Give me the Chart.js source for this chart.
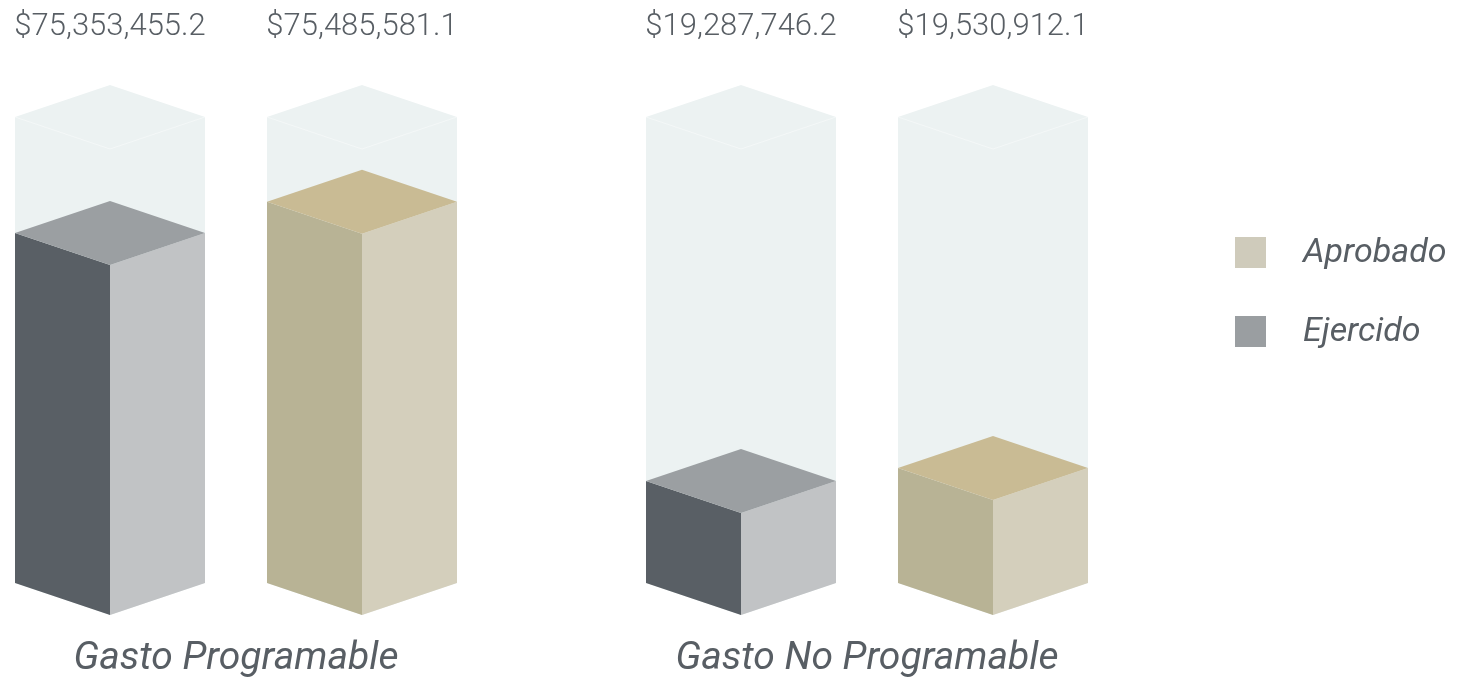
<!DOCTYPE html>
<html>
<head>
<meta charset="utf-8">
<script src="https://cdn.jsdelivr.net/npm/chart.js@4"></script>
<style>
  html, body { margin: 0; padding: 0; background: #fff; }
  #wrap { width: 1465px; height: 680px; position: relative; }
</style>
</head>
<body>
<div id="wrap"><canvas id="gastoChart"></canvas></div>
<script>
// datos
const categorias = ["Gasto Programable", "Gasto No Programable"];
const montoEjercido = [75353455.2, 19287746.2];
const montoAprobado = [75485581.1, 19530912.1];
// altura de cada columna en % del fondo
const nivelEjercido = [75.1, 21.9];
const nivelAprobado = [81.8, 24.7];

const colores = {
    Ejercido: { left: "#595f65", right: "#c1c3c5", top: "#9b9fa2", legend: "#9a9ea1" },
    Aprobado: { left: "#b8b395", right: "#d4cfbc", top: "#c9bb94", legend: "#cfcbbb" }
};
const fondo = "#ecf2f2";
const texto = "#585e64";

function fmtMonto(v) {
    const parts = v.toFixed(1).split(".");
    return "$" + parts[0].replace(/\B(?=(\d{3})+(?!\d))/g, ",") + "." + parts[1];
}

function poly(ctx, pts, color) {
    ctx.beginPath();
    ctx.moveTo(pts[0][0], pts[0][1]);
    for (let i = 1; i < pts.length; i++) ctx.lineTo(pts[i][0], pts[i][1]);
    ctx.closePath();
    ctx.fillStyle = color;
    ctx.fill();
}

const cubos = {
    id: "cubos",
    beforeDatasetsDraw(chart) {
        const ctx = chart.ctx;
        const yScale = chart.scales.y;
        const yMax = yScale.getPixelForValue(100);
        ctx.save();
        chart.data.datasets.forEach((ds, di) => {
            const meta = chart.getDatasetMeta(di);
            const c = colores[ds.label];
            meta.data.forEach((bar, i) => {
                const half = bar.width / 2;
                const dy = half * 0.337;
                const x = bar.x, top = bar.y, base = bar.base;
                // columna de fondo
                poly(ctx, [[x - half, yMax], [x, yMax - dy], [x + half, yMax],
                           [x + half, base], [x, base + dy], [x - half, base]], fondo);
                ctx.strokeStyle = "rgba(255,255,255,0.4)";
                ctx.lineWidth = 1;
                ctx.beginPath();
                ctx.moveTo(x - half, yMax); ctx.lineTo(x, yMax + dy); ctx.lineTo(x + half, yMax);
                ctx.stroke();
                // caras
                poly(ctx, [[x - half, top], [x, top + dy], [x, base + dy], [x - half, base]], c.left);
                poly(ctx, [[x, top + dy], [x + half, top], [x + half, base], [x, base + dy]], c.right);
                poly(ctx, [[x - half, top], [x, top - dy], [x + half, top], [x, top + dy]], c.top);
                // monto
                ctx.fillStyle = texto;
                ctx.font = "300 31px Roboto";
                ctx.textAlign = "center";
                ctx.textBaseline = "alphabetic";
                ctx.fillText(fmtMonto(ds.montos[i]), x, 35);
            });
        });
        ctx.restore();
    },
    afterDraw(chart) {
        const ctx = chart.ctx;
        ctx.save();
        const orden = chart.data.datasets.slice().reverse();
        orden.forEach((ds, k) => {
            const y = 237 + k * 79;
            ctx.fillStyle = colores[ds.label].legend;
            ctx.fillRect(1235, y, 31, 31);
            ctx.fillStyle = texto;
            ctx.font = "italic 400 34px Roboto";
            ctx.textAlign = "left";
            ctx.textBaseline = "middle";
            ctx.fillText(ds.label, 1303, y + 16);
        });
        ctx.restore();
    }
};

new Chart(document.getElementById("gastoChart"), {
    type: "bar",
    data: {
        labels: categorias,
        datasets: [
            { label: "Ejercido", data: nivelEjercido, montos: montoEjercido, backgroundColor: "rgba(0,0,0,0)" },
            { label: "Aprobado", data: nivelAprobado, montos: montoAprobado, backgroundColor: "rgba(0,0,0,0)" }
        ]
    },
    options: {
        responsive: true,
        maintainAspectRatio: false,
        animation: false,
        categoryPercentage: 0.7987,
        barPercentage: 0.754,
        layout: { padding: { left: 236, right: 598, top: 117, bottom: 0 } },
        plugins: {
            legend: { display: false },
            tooltip: { enabled: false }
        },
        scales: {
            x: {
                offset: false,
                grid: { display: false },
                border: { display: false },
                afterFit(scale) { scale.height = 97; },
                ticks: {
                    padding: 45,
                    maxRotation: 0,
                    minRotation: 0,
                    autoSkip: false,
                    color: texto,
                    font: { family: "Roboto", size: 39, style: "italic", weight: 400 }
                }
            },
            y: { display: false, min: 0, max: 100 }
        }
    },
    plugins: [cubos]
});
</script>
</body>
</html>
